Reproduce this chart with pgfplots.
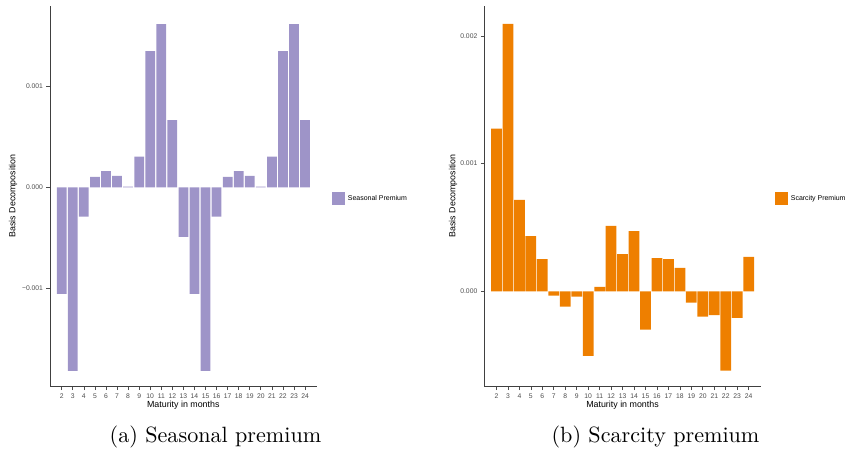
\documentclass[border=0pt]{standalone}
\usepackage{fontspec}
\newfontfamily\arial{Liberation Sans}
\newfontfamily\capfont{lmroman10-regular.otf}
\usepackage{pgfplots}
\pgfplotsset{compat=1.18}
\definecolor{seas}{RGB}{158,148,200}
\definecolor{scar}{RGB}{238,127,0}
\definecolor{tickgray}{RGB}{77,77,77}
\pgfplotsset{
  ggbase/.style={
    scale only axis,
    axis x line*=bottom, axis y line*=left,
    axis line style={black!75, line width=0.8bp},
    tick align=outside,
    major tick length=3.5bp,
    tick style={black!70, line width=0.7bp},
    xtick={2,...,24},
    ticklabel style={font=\arial\fontsize{6.8}{7}\selectfont, text=tickgray},
    /pgf/number format/assume math mode=true,
    scaled y ticks=false,
    enlargelimits=false,
    clip=false,
    legend style={draw=none, fill=none, font=\arial\fontsize{7}{8}\selectfont,
      inner sep=0pt, nodes={inner sep=0pt, anchor=west}, column sep=3bp, anchor=west},
  }
}
\begin{document}
\begin{tikzpicture}[x=1bp,y=1bp]
\useasboundingbox (0,0) rectangle (849,450);
% Left panel
\begin{axis}[ggbase,
  at={(50bp,63.3bp)}, anchor=south west,
  width=266.7bp, height=380.7bp,
  xmin=0.94, xmax=25.05,
  ymin=-0.001968, ymax=0.001790,
  ytick={-0.001,0,0.001},
  yticklabels={−0.001,0.000,0.001},
  ybar, bar width=0.88,
  legend style={at={(rel axis cs:1.0574,0.4938)}},
  legend image code/.code={\fill[#1] (0bp,-6.35bp) rectangle (12.7bp,6.35bp);},
]
\addplot[fill=seas, draw=none] coordinates {
(2,-0.001053) (3,-0.001813) (4,-0.000290) (5,0.000102) (6,0.000161)
(7,0.000112) (8,0.000006) (9,0.000302) (10,0.001345) (11,0.001612)
(12,0.000664) (13,-0.000488) (14,-0.001053) (15,-0.001813) (16,-0.000290)
(17,0.000102) (18,0.000161) (19,0.000112) (20,0.000006) (21,0.000302)
(22,0.001345) (23,0.001612) (24,0.000664)
};
\addlegendentry{Seasonal Premium}
\end{axis}
% Right panel
\begin{axis}[ggbase,
  at={(484.3bp,63.3bp)}, anchor=south west,
  width=276.4bp, height=380.7bp,
  xmin=0.94, xmax=25.05,
  ymin=-0.000747, ymax=0.002235,
  ytick={0,0.001,0.002},
  yticklabels={0.000,0.001,0.002},
  ybar, bar width=0.94,
  legend style={at={(rel axis cs:1.0517,0.4938)}},
  legend image code/.code={\fill[#1] (0bp,-6.35bp) rectangle (12.7bp,6.35bp);},
]
\addplot[fill=scar, draw=none] coordinates {
(2,0.001274) (3,0.002095) (4,0.000716) (5,0.000433) (6,0.000253)
(7,-0.000034) (8,-0.000120) (9,-0.000042) (10,-0.000505) (11,0.000034)
(12,0.000512) (13,0.000292) (14,0.000472) (15,-0.000300) (16,0.000261)
(17,0.000253) (18,0.000183) (19,-0.000089) (20,-0.000199) (21,-0.000186)
(22,-0.000622) (23,-0.000207) (24,0.000269)
};
\addlegendentry{Scarcity Premium}
\end{axis}
% axis titles
\node[rotate=90, font=\arial\fontsize{8.9}{10}\selectfont] at (13,254) {Basis Decomposition};
\node[rotate=90, font=\arial\fontsize{8.9}{10}\selectfont] at (453,254) {Basis Decomposition};
\node[font=\arial\fontsize{8.9}{10}\selectfont] at (183.3,45) {Maturity in months};
\node[font=\arial\fontsize{8.9}{10}\selectfont] at (622.5,45) {Maturity in months};
% captions
\node[font=\capfont\fontsize{22.2}{26}\selectfont, anchor=base] at (215.5,7.5) {(a) Seasonal premium};
\node[font=\capfont\fontsize{22.2}{26}\selectfont, anchor=base] at (655.5,7.5) {(b) Scarcity premium};
\end{tikzpicture}
\end{document}
